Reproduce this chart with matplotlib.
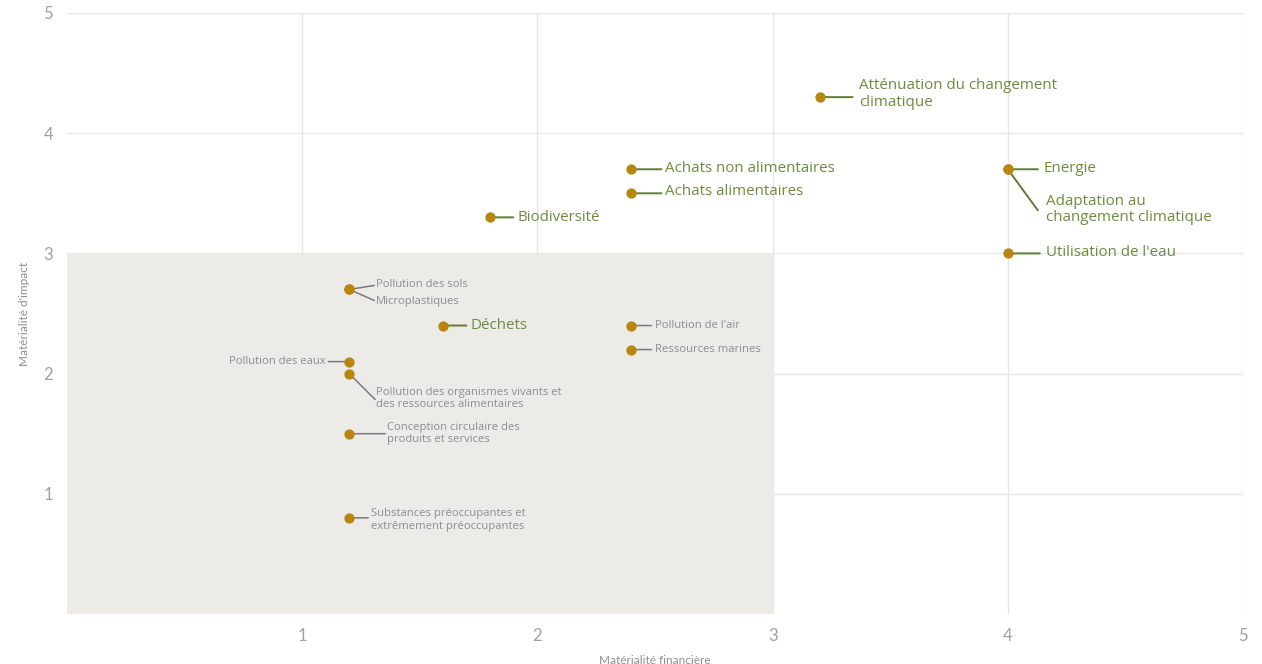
import numpy as np
import matplotlib.pyplot as plt
from matplotlib.patches import Rectangle

plt.rcParams['font.family'] = ['Lato', 'DejaVu Sans']

# enjeux : (materialite financiere, materialite d'impact)
labels = [
    "Atténuation du changement\nclimatique",
    "Energie",
    "Adaptation au\nchangement climatique",
    "Utilisation de l'eau",
    "Achats non alimentaires",
    "Achats alimentaires",
    "Biodiversité",
    "Pollution des sols",
    "Microplastiques",
    "Déchets",
    "Pollution de l'air",
    "Ressources marines",
    "Pollution des eaux",
    "Pollution des organismes vivants et\ndes ressources alimentaires",
    "Conception circulaire des\nproduits et services",
    "Substances préoccupantes et\nextrêmement préoccupantes",
]
financial = [3.2, 4.0, 4.0, 4.0, 2.4, 2.4, 1.8, 1.2, 1.2, 1.6, 2.4, 2.4, 1.2, 1.2, 1.2, 1.2]
impact = [4.3, 3.7, 3.7, 3.0, 3.7, 3.5, 3.3, 2.7, 2.7, 2.4, 2.4, 2.2, 2.1, 2.0, 1.5, 0.8]
material = [True, True, True, True, True, True, True, False, False, True, False, False, False, False, False, False]

# placement des etiquettes (pixels par rapport au point): fin du trait, texte
line_end = [(33, 0), (30, 0), (30, -41), (32, 0), (30, 0), (30, 0), (23, 0), (25, 4),
            (25, -11), (23, 0), (20, 0), (20, 0), (-21, 0), (26, -26), (36, 0), (19, 0)]
text_pos = [(39, 3), (36, 1), (38, -40), (38, 1), (34, 1), (34, 2), (27, 0), (27, 5),
            (27, -12), (27, 0), (24, 0), (24, 0), (-24, 0), (27, -25), (38, 0), (22, -2)]

GREEN = '#6b8c3e'
GREEN_LINE = '#5e7d32'
GREY = '#8e8e8e'
GREY_LINE = '#7a7a7a'
GOLD = '#b8860f'

fig = plt.figure(figsize=(12.62, 6.64), dpi=100)
ax = fig.add_axes([67 / 1262, 50 / 664, 1176 / 1262, 601 / 664])

ax.set_xlim(0, 5)
ax.set_ylim(0, 5)
ax.set_xticks([1, 2, 3, 4, 5])
ax.set_yticks([1, 2, 3, 4, 5])
ax.grid(True, color='#e6e6e6', linewidth=1)
ax.set_axisbelow(True)
for s in ax.spines.values():
    s.set_visible(False)
ax.tick_params(length=0, labelsize=12, labelcolor='#a0a0a0', pad=10)

# zone non materielle
ax.add_patch(Rectangle((0, 0), 3, 3, facecolor='#edebe8', edgecolor='none', zorder=1))

ax.scatter(financial, impact, s=55, color=GOLD, zorder=4, linewidths=0)

for i, lab in enumerate(labels):
    big = material[i]
    lc = GREEN_LINE if big else GREY_LINE
    tc = GREEN if big else GREY
    ax.annotate('', xy=(financial[i], impact[i]), xytext=line_end[i], textcoords='offset pixels',
                arrowprops=dict(arrowstyle='-', color=lc, lw=1.4 if big else 1.1,
                                shrinkA=0, shrinkB=0), zorder=3)
    ha = 'right' if text_pos[i][0] < 0 else 'left'
    ax.annotate(lab, xy=(financial[i], impact[i]), xytext=text_pos[i], textcoords='offset pixels',
                ha=ha, va='center', color=tc, fontsize=10.9 if big else 8.1,
                family=['Open Sans', 'DejaVu Sans'], linespacing=1.12 if big else 1.18, zorder=5)

ax.set_xlabel("Matérialité financière", fontsize=8.5, color='#8e8e8e', labelpad=8)
ax.set_ylabel("Matérialité d'impact", fontsize=8.5, color='#8e8e8e', labelpad=10)

fig.savefig('out.png', dpi=100)
